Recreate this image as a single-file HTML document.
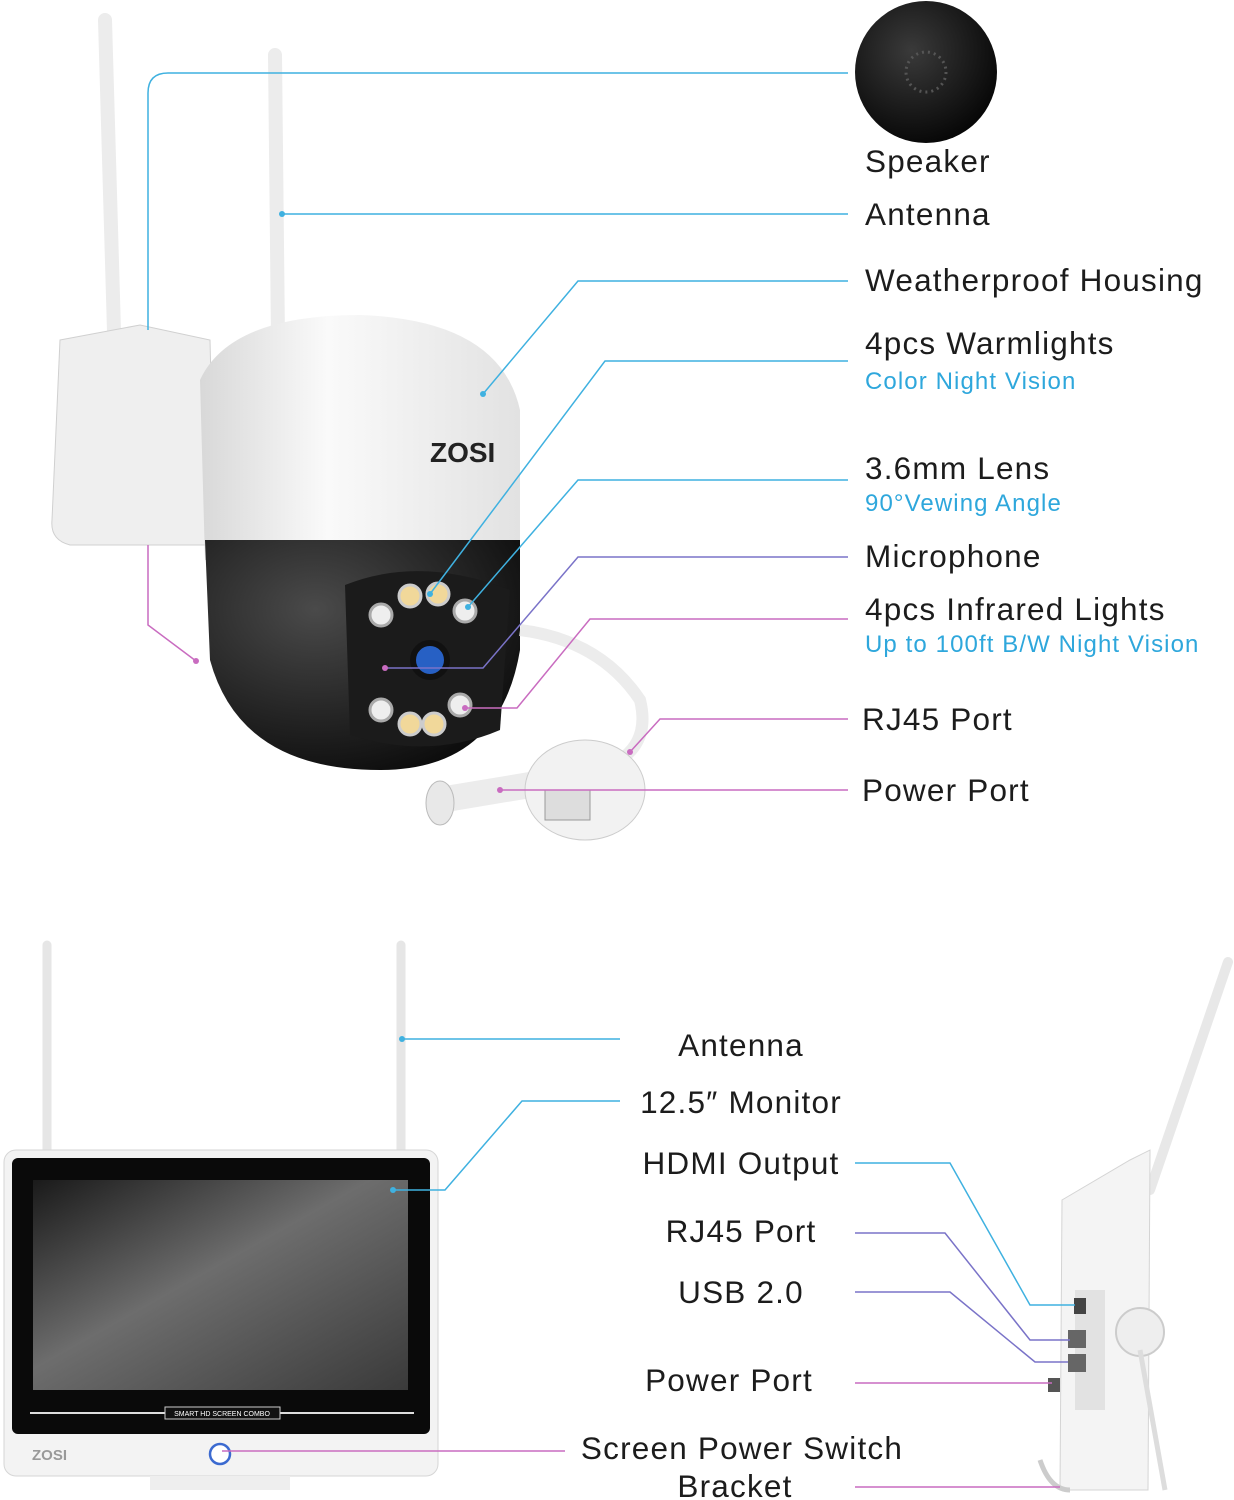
<!DOCTYPE html>
<html><head><meta charset="utf-8"><style>
html,body{margin:0;padding:0;background:#fff}
svg{display:block}
text{font-family:"Liberation Sans",sans-serif}
.l{font-size:31.5px;fill:#1c1c1c;letter-spacing:1.2px}
.s{font-size:24px;fill:#2ea7dc;letter-spacing:1.1px}
</style></head><body>
<svg width="1234" height="1500" viewBox="0 0 1234 1500" xmlns="http://www.w3.org/2000/svg">
<defs>
<radialGradient id="sp" cx="0.4" cy="0.35" r="0.7"><stop offset="0" stop-color="#3a3a3a"/><stop offset="1" stop-color="#050505"/></radialGradient>
<linearGradient id="dome" x1="0" y1="0" x2="1" y2="0"><stop offset="0" stop-color="#d8d8d8"/><stop offset="0.4" stop-color="#fafafa"/><stop offset="1" stop-color="#e2e2e2"/></linearGradient>
<radialGradient id="ball" cx="0.35" cy="0.3" r="0.8"><stop offset="0" stop-color="#4a4a4a"/><stop offset="1" stop-color="#0a0a0a"/></radialGradient>
<linearGradient id="scr" x1="0" y1="0" x2="1" y2="1"><stop offset="0" stop-color="#1a1a1a"/><stop offset="0.45" stop-color="#6d6d6d"/><stop offset="1" stop-color="#3a3a3a"/></linearGradient>
</defs>

<!-- speaker -->
<circle cx="926" cy="72" r="71" fill="url(#sp)"/>
<circle cx="926" cy="72" r="20" fill="none" stroke="#555" stroke-width="3" stroke-dasharray="2 4"/>

<!-- camera -->
<line x1="105" y1="20" x2="118" y2="470" stroke="#ececec" stroke-width="14" stroke-linecap="round"/>
<line x1="275" y1="55" x2="278" y2="340" stroke="#ececec" stroke-width="14" stroke-linecap="round"/>
<path d="M60 340 L140 325 L210 340 L215 545 L70 545 Q50 540 52 520 Z" fill="#efefef" stroke="#d0d0d0"/>
<path d="M200 380 Q230 315 360 315 Q500 320 520 410 L520 560 L205 560 Z" fill="url(#dome)"/>
<text x="430" y="462" font-size="28" font-weight="bold" fill="#222" style="font-family:'Liberation Sans',sans-serif">ZOSI</text>
<path d="M205 540 L520 540 L520 650 Q500 770 380 770 Q240 770 210 660 Z" fill="url(#ball)"/>
<path d="M345 585 Q420 555 510 590 L500 730 Q430 760 350 735 Z" fill="#1b1b1b"/>
<g fill="#f1d89a" stroke="#ccc" stroke-width="3">
<circle cx="410" cy="596" r="11"/><circle cx="438" cy="594" r="11"/><circle cx="410" cy="724" r="11"/><circle cx="434" cy="724" r="11"/>
</g>
<g fill="#eee" stroke="#aaa" stroke-width="3">
<circle cx="381" cy="615" r="11"/><circle cx="465" cy="611" r="11"/><circle cx="381" cy="710" r="11"/><circle cx="460" cy="705" r="11"/>
</g>
<circle cx="430" cy="660" r="17" fill="#2760c4" stroke="#111" stroke-width="6"/>
<!-- cables -->
<path d="M520 630 Q600 640 640 700 Q650 740 620 760" fill="none" stroke="#ececec" stroke-width="12"/>
<path d="M440 800 Q500 790 560 780" fill="none" stroke="#ececec" stroke-width="26"/>
<ellipse cx="440" cy="803" rx="14" ry="22" fill="#e8e8e8" stroke="#bbb"/>
<ellipse cx="585" cy="790" rx="60" ry="50" fill="#f2f2f2" stroke="#ccc"/>
<rect x="545" y="790" width="45" height="30" fill="#ddd" stroke="#999"/>

<!-- camera lines -->
<g fill="none" stroke="#3fb1e0" stroke-width="1.5">
<path d="M848 73 L168 73 Q148 73 148 93 L148 330"/>
<path d="M848 214 L282 214"/>
<path d="M848 281 L578 281 L483 394"/>
<path d="M848 361 L605 361 L430 594"/>
<path d="M848 480 L578 480 L468 607"/>
</g>
<g fill="none" stroke="#7a73c8" stroke-width="1.5">
<path d="M848 557 L578 557 L483 668 L385 668"/>
</g>
<g fill="none" stroke="#c96cc0" stroke-width="1.5">
<path d="M848 619 L590 619 L517 708 L465 708"/>
<path d="M848 719 L660 719 L630 752"/>
<path d="M848 790 L500 790"/>
<path d="M148 545 L148 625 L196 661"/>
</g>
<g fill="#3fb1e0"><circle cx="282" cy="214" r="3"/><circle cx="483" cy="394" r="3"/><circle cx="430" cy="594" r="3"/><circle cx="468" cy="607" r="3"/></g>
<g fill="#c96cc0"><circle cx="385" cy="668" r="3"/><circle cx="465" cy="708" r="3"/><circle cx="630" cy="752" r="3"/><circle cx="500" cy="790" r="3"/><circle cx="196" cy="661" r="3"/></g>

<text class="l" x="865" y="172">Speaker</text>
<text class="l" x="865" y="225">Antenna</text>
<text class="l" x="865" y="291">Weatherproof Housing</text>
<text class="l" x="865" y="354">4pcs Warmlights</text>
<text class="s" x="865" y="389">Color Night Vision</text>
<text class="l" x="865" y="479">3.6mm Lens</text>
<text class="s" x="865" y="511">90°Vewing Angle</text>
<text class="l" x="865" y="567">Microphone</text>
<text class="l" x="865" y="620">4pcs Infrared Lights</text>
<text class="s" x="865" y="652">Up to 100ft B/W Night Vision</text>
<text class="l" x="862" y="730">RJ45 Port</text>
<text class="l" x="862" y="801">Power Port</text>

<!-- monitor -->
<line x1="47" y1="945" x2="47" y2="1150" stroke="#e6e6e6" stroke-width="9" stroke-linecap="round"/>
<line x1="401" y1="945" x2="401" y2="1150" stroke="#e6e6e6" stroke-width="9" stroke-linecap="round"/>
<rect x="4" y="1150" width="434" height="326" rx="12" fill="#f3f3f3" stroke="#d6d6d6"/>
<rect x="12" y="1158" width="418" height="276" rx="6" fill="#0a0a0a"/>
<rect x="33" y="1180" width="375" height="210" fill="url(#scr)"/>
<line x1="30" y1="1413" x2="414" y2="1413" stroke="#ddd" stroke-width="2"/>
<rect x="165" y="1407" width="115" height="12" fill="#111" stroke="#ccc"/>
<text x="222" y="1416" font-size="7" fill="#fff" text-anchor="middle">SMART HD SCREEN COMBO</text>
<text x="32" y="1460" font-size="15" font-weight="bold" fill="#999">ZOSI</text>
<circle cx="220" cy="1454" r="10" fill="#fff" stroke="#3b6ad0" stroke-width="2.5"/>
<rect x="150" y="1476" width="140" height="14" fill="#eee"/>

<!-- side view -->
<line x1="1150" y1="1190" x2="1228" y2="962" stroke="#e8e8e8" stroke-width="10" stroke-linecap="round"/>
<path d="M1130 1160 L1150 1150 L1148 1490 L1060 1490 L1062 1200 Z" fill="#f4f4f4" stroke="#d4d4d4"/>
<rect x="1075" y="1290" width="30" height="120" fill="#e2e2e2"/>
<rect x="1074" y="1298" width="12" height="16" fill="#444"/>
<rect x="1068" y="1330" width="18" height="18" fill="#666"/>
<rect x="1068" y="1354" width="18" height="18" fill="#666"/>
<rect x="1048" y="1378" width="12" height="14" fill="#555"/>
<circle cx="1140" cy="1332" r="24" fill="#eee" stroke="#ccc" stroke-width="2"/>
<line x1="1140" y1="1350" x2="1165" y2="1490" stroke="#ddd" stroke-width="5"/>
<path d="M1040 1460 Q1050 1490 1070 1490" fill="none" stroke="#ccc" stroke-width="5"/>

<!-- bottom lines -->
<g fill="none" stroke="#3fb1e0" stroke-width="1.5">
<path d="M620 1039 L402 1039"/>
<path d="M620 1101 L522 1101 L445 1190 L393 1190"/>
<path d="M855 1163 L950 1163 L1030 1305 L1075 1305"/>
</g>
<g fill="none" stroke="#7a73c8" stroke-width="1.5">
<path d="M855 1233 L945 1233 L1030 1340 L1070 1340"/>
<path d="M855 1292 L950 1292 L1035 1362 L1068 1362"/>
</g>
<g fill="none" stroke="#c96cc0" stroke-width="1.5">
<path d="M855 1383 L1052 1383"/>
<path d="M565 1451 L222 1451"/>
<path d="M855 1487 L1060 1487"/>
</g>
<g fill="#3fb1e0"><circle cx="402" cy="1039" r="3"/><circle cx="393" cy="1190" r="3"/></g>

<text class="l" x="741" y="1056" text-anchor="middle">Antenna</text>
<text class="l" x="741" y="1113" text-anchor="middle">12.5″ Monitor</text>
<text class="l" x="741" y="1174" text-anchor="middle">HDMI Output</text>
<text class="l" x="741" y="1242" text-anchor="middle">RJ45 Port</text>
<text class="l" x="741" y="1303" text-anchor="middle">USB 2.0</text>
<text class="l" x="729" y="1391" text-anchor="middle">Power Port</text>
<text class="l" x="742" y="1459" text-anchor="middle">Screen Power Switch</text>
<text class="l" x="735" y="1497" text-anchor="middle">Bracket</text>
</svg>
</body></html>
